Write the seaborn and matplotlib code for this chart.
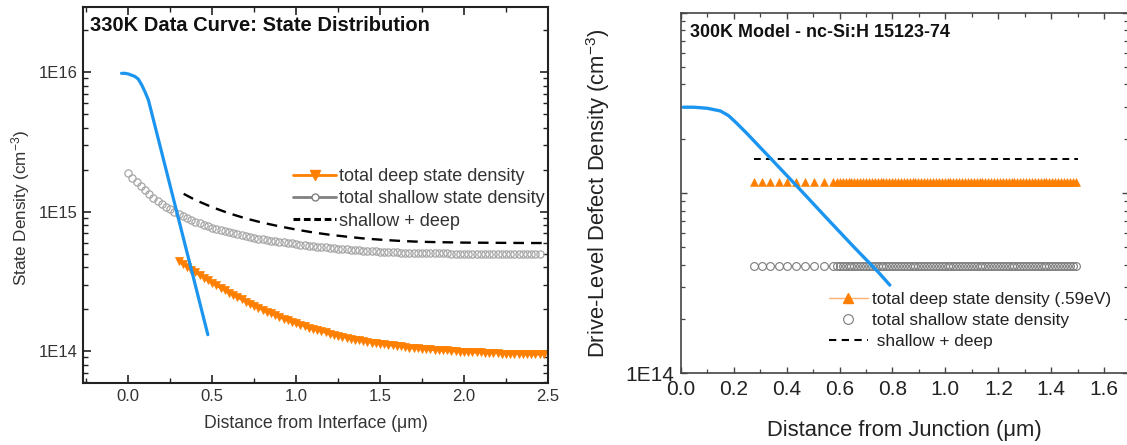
import numpy as np
import matplotlib
matplotlib.use("Agg")
import matplotlib.pyplot as plt
import matplotlib.ticker as ticker
from matplotlib.lines import Line2D
import seaborn as sns

# ---------------- left panel: 330K data curve ----------------
# distance grid (um) and densities in units of 1E14 cm^-3
shallow_x = np.round(np.arange(99) * 0.025, 3)          # 0.0 ... 2.45
shallow_e14 = [
    18.95, 17.50, 16.24, 15.14, 14.18, 13.34, 12.60, 11.94, 11.37, 10.85,
    10.39, 9.98, 9.61, 9.28, 8.98, 8.71, 8.47, 8.24, 8.04, 7.85,
    7.67, 7.52, 7.37, 7.23, 7.10, 6.98, 6.87, 6.77, 6.67, 6.58,
    6.49, 6.41, 6.34, 6.27, 6.20, 6.13, 6.08, 6.02, 5.96, 5.91,
    5.85, 5.80, 5.75, 5.70, 5.65, 5.61, 5.57, 5.53, 5.49, 5.45,
    5.42, 5.39, 5.36, 5.33, 5.30, 5.27, 5.24, 5.22, 5.20, 5.18,
    5.16, 5.14, 5.12, 5.10, 5.09, 5.08, 5.07, 5.06, 5.05, 5.04,
    5.03, 5.03, 5.02, 5.02, 5.01, 5.01, 5.01, 5.00, 5.00, 5.00,
    5.00, 5.00, 5.00, 5.00, 4.99, 4.99, 4.99, 4.99, 4.99, 4.99,
    4.99, 4.99, 4.98, 4.98, 4.98, 4.98, 4.98, 4.98, 4.98,
]

deep_x = np.round(0.30 + np.arange(88) * 0.025, 3)      # 0.30 ... 2.475
deep_e14 = [
    4.40, 4.20, 4.01, 3.83, 3.66, 3.50, 3.35, 3.21, 3.08, 2.96,
    2.84, 2.73, 2.62, 2.53, 2.43, 2.35, 2.26, 2.19, 2.11, 2.05,
    1.98, 1.92, 1.86, 1.81, 1.76, 1.71, 1.66, 1.62, 1.58, 1.54,
    1.51, 1.47, 1.44, 1.41, 1.39, 1.36, 1.33, 1.31, 1.29, 1.27,
    1.25, 1.23, 1.21, 1.20, 1.18, 1.17, 1.15, 1.14, 1.13, 1.12,
    1.10, 1.10, 1.09, 1.08, 1.07, 1.06, 1.05, 1.05, 1.04, 1.03,
    1.03, 1.02, 1.02, 1.01, 1.01, 1.00, 1.00, 0.99, 0.99, 0.99,
    0.98, 0.98, 0.98, 0.97, 0.97, 0.97, 0.97, 0.96, 0.96, 0.96,
    0.96, 0.96, 0.96, 0.95, 0.95, 0.95, 0.95, 0.95,
]

sum_x = [0.33, 0.4, 0.5, 0.6, 0.7, 0.8, 0.9, 1.0, 1.1, 1.2, 1.3, 1.4,
         1.5, 1.6, 1.7, 1.8, 1.9, 2.0, 2.1, 2.2, 2.3, 2.4, 2.5]
sum_e14 = [13.4, 12.1, 10.75, 9.72, 8.93, 8.32, 7.84, 7.43, 7.09, 6.82, 6.61, 6.42,
           6.29, 6.18, 6.10, 6.05, 6.02, 5.99, 5.98, 5.97, 5.96, 5.95, 5.95]

fit_left_x = [-0.04, -0.02, 0.0, 0.02, 0.04, 0.06, 0.08, 0.10, 0.12, 0.20, 0.30, 0.40, 0.474]
fit_left_y = [9.8e15, 9.8e15, 9.7e15, 9.5e15, 9.3e15, 8.9e15, 8.1e15, 7.2e15, 6.3e15,
              2.63e15, 8.8e14, 2.95e14, 1.31e14]

# ---------------- right panel: 300K model ----------------
fit_right_x = [0.01, 0.05, 0.10, 0.15, 0.18, 0.21, 0.25, 0.35, 0.45, 0.55, 0.65, 0.75, 0.79]
fit_right_y = [2.99e15, 2.99e15, 2.95e15, 2.85e15, 2.69e15, 2.45e15, 2.14e15,
               1.50e15, 1.05e15, 7.3e14, 5.1e14, 3.6e14, 3.09e14]

model_sparse_x = [0.278, 0.308, 0.339, 0.370, 0.400, 0.434, 0.468, 0.502, 0.543, 0.577]
model_x = np.concatenate([model_sparse_x, np.round(np.arange(0.59, 1.5005, 0.011), 3)])
deep_level = 1.15e15
shallow_level = 3.93e14
sum_level = 1.54e15
sum_right_x = [0.277, 1.50]

ORANGE = "#ff7f00"
BLUE = "#1b95ef"

sns.set_style("ticks")
plt.rcParams["font.family"] = ["Liberation Sans", "DejaVu Sans"]
plt.rcParams["mathtext.fontset"] = "custom"
plt.rcParams["mathtext.rm"] = "Liberation Sans"
plt.rcParams["mathtext.it"] = "Liberation Sans:italic"
plt.rcParams["mathtext.bf"] = "Liberation Sans:bold"

fig = plt.figure(figsize=(11.27, 4.45), dpi=100)
axL = fig.add_axes([0.0736, 0.1393, 0.4126, 0.845])
axR = fig.add_axes([0.604, 0.1607, 0.3969, 0.811])

# ---- left ----
sns.lineplot(x=shallow_x, y=np.array(shallow_e14) * 1e14, ax=axL, estimator=None,
             linestyle="none", marker="o", markersize=5.2, markerfacecolor="none",
             markeredgecolor="#a6a6a6", markeredgewidth=0.9)
sns.lineplot(x=sum_x, y=np.array(sum_e14) * 1e14, ax=axL, estimator=None,
             color="black", linewidth=1.7, linestyle=(0, (4.5, 3)))
sns.lineplot(x=deep_x, y=np.array(deep_e14) * 1e14, ax=axL, estimator=None,
             color=ORANGE, linewidth=1.8, marker="v", markersize=6.3,
             markerfacecolor=ORANGE, markeredgecolor=ORANGE, markeredgewidth=0.5)
sns.lineplot(x=fit_left_x, y=fit_left_y, ax=axL, estimator=None, sort=False,
             color=BLUE, linewidth=2.3)

axL.set_yscale("log")
axL.set_xlim(-0.27, 2.5)
axL.set_ylim(5.9e13, 2.93e16)
axL.yaxis.set_major_locator(ticker.FixedLocator([1e14, 1e15, 1e16]))
axL.yaxis.set_major_formatter(ticker.FixedFormatter(["1E14", "1E15", "1E16"]))
axL.yaxis.set_minor_locator(ticker.LogLocator(base=10, subs=np.arange(2, 10), numticks=20))
axL.yaxis.set_minor_formatter(ticker.NullFormatter())
axL.xaxis.set_major_locator(ticker.MultipleLocator(0.5))
axL.xaxis.set_minor_locator(ticker.MultipleLocator(0.25))
axL.xaxis.set_major_formatter(ticker.FormatStrFormatter("%.1f"))
axL.tick_params(which="both", direction="in", top=True, right=True, colors="#222222",
                labelcolor="#333333")
axL.tick_params(which="major", length=6, width=1.2, labelsize=12, pad=4)
axL.tick_params(which="minor", length=3.5, width=1.0)
for s in axL.spines.values():
    s.set_linewidth(1.5)
    s.set_color("#222222")

axL.set_xlabel("Distance from Interface (\u03bcm)", fontsize=12.7, color="#333333")
axL.set_ylabel("State Density (cm$^{-3}$)", fontsize=12.3, color="#333333")
axL.xaxis.label.set_va("center")
axL.yaxis.label.set_va("center")
axL.xaxis.set_label_coords(0.5, -0.109)
axL.yaxis.set_label_coords(-0.134, 0.465)
axL.text(0.015, 0.952, "330K Data Curve: State Distribution", transform=axL.transAxes,
         fontsize=14.5, fontweight="bold", va="center", ha="left", color="#111111")

hL = [
    Line2D([], [], color=ORANGE, lw=2, marker="v", markersize=6.5,
           markerfacecolor=ORANGE, markeredgecolor=ORANGE),
    Line2D([], [], color="#808080", lw=2, marker="o", markersize=5,
           markerfacecolor="white", markeredgecolor="#808080"),
    Line2D([], [], color="black", lw=2.2, linestyle=(0, (2.2, 1.2))),
]
axL.legend(hL, ["total deep state density", "total shallow state density", "shallow + deep"],
           loc="upper left", bbox_to_anchor=(0.452, 0.572), frameon=False, fontsize=13,
           handlelength=2.4, handletextpad=0.15, labelspacing=0.3, borderpad=0,
           borderaxespad=0, numpoints=1, labelcolor="#333333")

# ---- right ----
sns.lineplot(x=sum_right_x, y=[sum_level, sum_level], ax=axR, estimator=None,
             color="black", linewidth=1.4, linestyle=(0, (3.5, 2.6)))
sns.lineplot(x=model_x, y=np.full(len(model_x), deep_level), ax=axR, estimator=None,
             linestyle="none", marker="^", markersize=5.5, markerfacecolor=ORANGE,
             markeredgecolor=ORANGE, markeredgewidth=0.4)
sns.lineplot(x=model_x, y=np.full(len(model_x), shallow_level), ax=axR, estimator=None,
             linestyle="none", marker="o", markersize=5.6, markerfacecolor="none",
             markeredgecolor="#7a7a7a", markeredgewidth=0.8)
sns.lineplot(x=fit_right_x, y=fit_right_y, ax=axR, estimator=None, sort=False,
             color=BLUE, linewidth=2.4)

axR.set_yscale("log")
axR.set_xlim(0, 1.69)
axR.set_ylim(1e14, 1e16)
axR.yaxis.set_major_locator(ticker.FixedLocator([1e14, 1e15, 1e16]))
axR.yaxis.set_major_formatter(ticker.FixedFormatter(["1E14", "", ""]))
axR.yaxis.set_minor_locator(ticker.LogLocator(base=10, subs=np.arange(2, 10), numticks=20))
axR.yaxis.set_minor_formatter(ticker.NullFormatter())
axR.xaxis.set_major_locator(ticker.MultipleLocator(0.2))
axR.xaxis.set_minor_locator(ticker.MultipleLocator(0.1))
axR.xaxis.set_major_formatter(ticker.FormatStrFormatter("%.1f"))
axR.tick_params(which="both", direction="in", top=True, right=True, colors="#444444",
                labelcolor="#222222")
axR.tick_params(which="major", length=4.5, width=1.0, labelsize=15, pad=5)
axR.tick_params(which="minor", length=3, width=0.9)
for s in axR.spines.values():
    s.set_linewidth(1.2)
    s.set_color("#444444")

axR.set_xlabel("Distance from Junction (\u03bcm)", fontsize=15.8, color="#222222")
axR.set_ylabel("Drive-Level Defect Density (cm$^{-3}$)", fontsize=15.8, color="#222222")
axR.xaxis.label.set_va("center")
axR.yaxis.label.set_va("center")
axR.xaxis.set_label_coords(0.5, -0.157)
axR.yaxis.set_label_coords(-0.185, 0.5)
axR.text(0.02, 0.946, "300K Model - nc-Si:H 15123-74", transform=axR.transAxes,
         fontsize=12.9, fontweight="bold", va="center", ha="left", color="#111111")

hR = [
    Line2D([], [], color="#ffb070", lw=1, marker="^", markersize=7,
           markerfacecolor=ORANGE, markeredgecolor=ORANGE),
    Line2D([], [], linestyle="none", marker="o", markersize=7,
           markerfacecolor="none", markeredgecolor="#7a7a7a", markeredgewidth=0.8),
    Line2D([], [], color="black", lw=1.5, linestyle=(0, (3.5, 2.6))),
]
axR.legend(hR, ["total deep state density (.59eV)", "total shallow state density", " shallow + deep"],
           loc="upper left", bbox_to_anchor=(0.3315, 0.226), frameon=False, fontsize=12.4,
           handlelength=2.24, handletextpad=0.26, labelspacing=0.34, borderpad=0,
           borderaxespad=0, numpoints=1, labelcolor="#222222")

fig.savefig("out.png", dpi=100)
